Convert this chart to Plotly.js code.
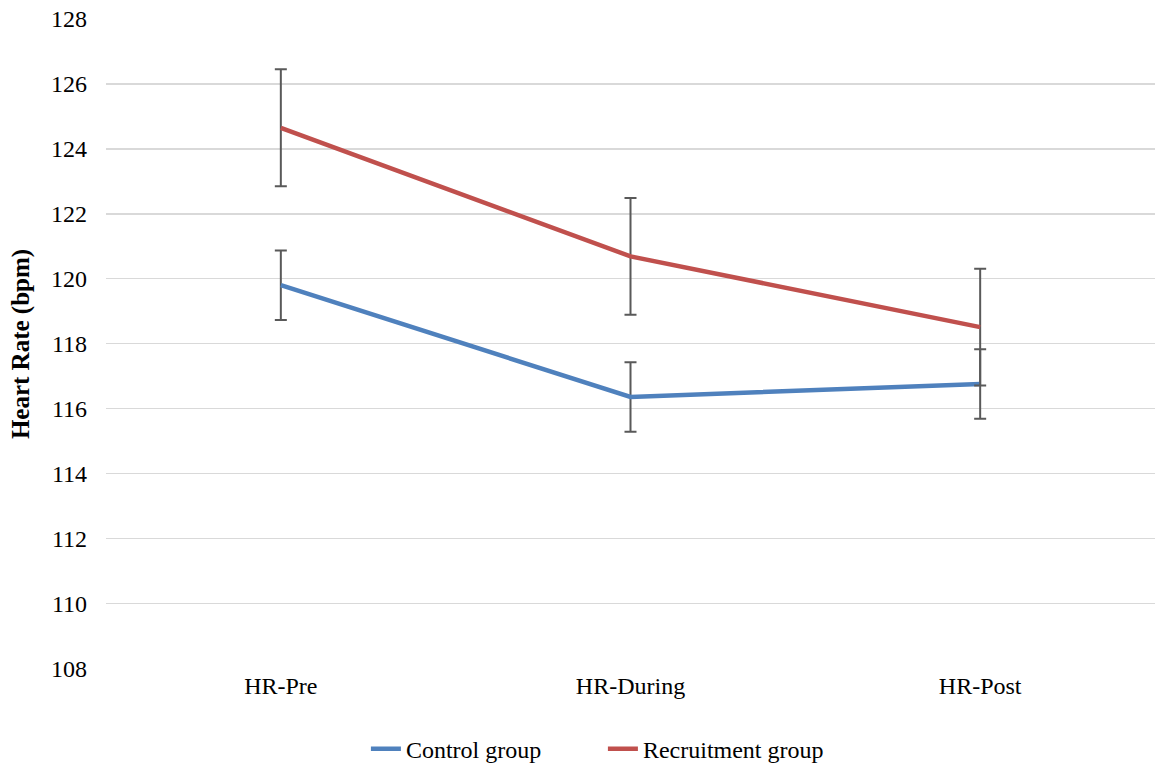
<!DOCTYPE html>
<html>
<head>
<meta charset="utf-8">
<script src="https://cdn.plot.ly/plotly-3.0.1.min.js"></script>
<style>html,body{margin:0;padding:0;background:#fff}#chart{width:1155px;height:764px}</style>
</head>
<body>
<div id="chart"></div>
<script>
const categories = ["HR-Pre", "HR-During", "HR-Post"];
const controlMean = [119.8, 116.36, 116.76];
const controlErr = [1.07, 1.07, 1.07];
const recruitMean = [124.65, 120.69, 118.51];
const recruitErr = [1.8, 1.8, 1.8];
const yTicks = [108, 110, 112, 114, 116, 118, 120, 122, 124, 126, 128];

const FONT = 'Liberation Serif, Times New Roman, serif';
const errStyle = {type: 'data', visible: true, color: '#595959', thickness: 2, width: 6};

const traces = [
  {
    x: categories, y: controlMean, name: 'Control group', type: 'scatter', mode: 'lines',
    line: {color: '#4F81BD', width: 4.5},
    error_y: Object.assign({array: controlErr, symmetric: true}, errStyle)
  },
  {
    x: categories, y: recruitMean, name: 'Recruitment group', type: 'scatter', mode: 'lines',
    line: {color: '#C0504D', width: 4.5},
    error_y: Object.assign({array: recruitErr, symmetric: true}, errStyle)
  }
];

const layout = {
  width: 1155, height: 764,
  margin: {l: 106, r: 0, t: 19, b: 95},
  paper_bgcolor: '#ffffff', plot_bgcolor: '#ffffff',
  font: {family: FONT, size: 24, color: '#000000'},
  showlegend: true,
  legend: {
    orientation: 'h', xref: 'container', yref: 'container',
    x: 0.522, xanchor: 'center', y: 0.0196, yanchor: 'middle',
    font: {family: FONT, size: 24, color: '#000000'}, entrywidth: 192, entrywidthmode: 'pixels'
  },
  xaxis: {
    type: 'category', range: [-0.5, 2.5], showgrid: false, zeroline: false,
    showline: false, ticks: '', tickfont: {family: FONT, size: 24, color: '#000000'}, fixedrange: true
  },
  yaxis: {
    range: [107.98, 128], tickvals: yTicks, ticktext: yTicks.map(String),
    showgrid: true, gridcolor: '#d9d9d9', gridwidth: 1.5, zeroline: false, showline: false,
    ticks: '', ticklabelstandoff: 18, tickfont: {family: FONT, size: 24, color: '#000000'},
    title: {text: '<b>Heart Rate (bpm)</b>', font: {family: FONT, size: 25, color: '#000000'}, standoff: 14}
  }
};

Plotly.newPlot('chart', traces, layout, {displayModeBar: false, staticPlot: true});
</script>
</body>
</html>
